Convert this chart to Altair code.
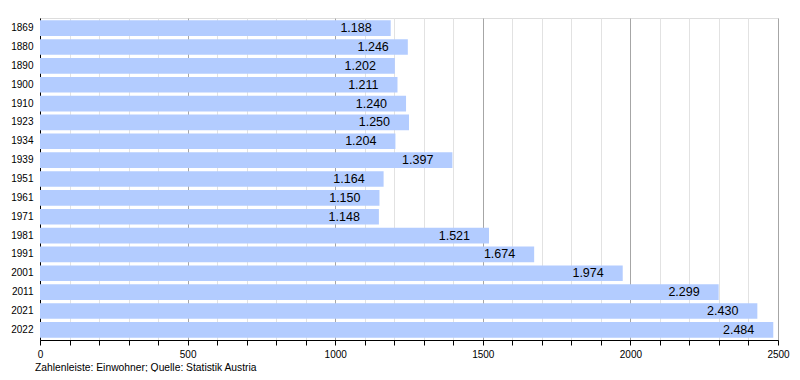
import altair as alt
import pandas as pd

years = ["1869", "1880", "1890", "1900", "1910", "1923", "1934", "1939", "1951",
         "1961", "1971", "1981", "1991", "2001", "2011", "2021", "2022"]
population = [1188, 1246, 1202, 1211, 1240, 1250, 1204, 1397, 1164,
              1150, 1148, 1521, 1674, 1974, 2299, 2430, 2484]
labels = ["1.188", "1.246", "1.202", "1.211", "1.240", "1.250", "1.204", "1.397", "1.164",
          "1.150", "1.148", "1.521", "1.674", "1.974", "2.299", "2.430", "2.484"]
x_ticks = list(range(0, 2501, 100))
footer = "Zahlenleiste: Einwohner; Quelle: Statistik Austria"

df = pd.DataFrame({"year": years, "pop": population, "label": labels})

W, H = 738, 322
FONT = "Liberation Sans"

x_scale = alt.Scale(domain=[0, 2500], nice=False, zero=True)
y_scale = alt.Scale(paddingInner=0.17, paddingOuter=0.125)

x_axis = alt.Axis(
    values=x_ticks,
    labelExpr="datum.value % 500 == 0 ? datum.value : ''",
    grid=True,
    gridColor=alt.condition("datum.value % 500 == 0", alt.value("#a6a6a6"), alt.value("#e2e2e2")),
    gridWidth=1,
    tickColor="black",
    tickSize=5,
    domainColor="black",
    labelColor="black",
    labelFontSize=10,
    labelFont=FONT,
    labelPadding=4,
    labelFlush=False,
    labelOverlap=False,
    title=None,
)
y_axis = alt.Axis(
    ticks=False,
    domainColor="black",
    labelColor="black",
    labelFontSize=10,
    labelFont=FONT,
    labelPadding=7,
    grid=False,
    title=None,
)

x_enc = alt.X("pop:Q", scale=x_scale, axis=x_axis)
y_enc = alt.Y("year:N", sort=years, scale=y_scale, axis=y_axis)

base = alt.Chart(df)
bars = base.mark_bar(color="#b3ccff").encode(x=x_enc, y=y_enc)
text = base.mark_text(align="right", baseline="middle", dx=-19, fontSize=12.5,
                      font=FONT, color="black").encode(x=x_enc, y=y_enc, text="label:N")

foot = alt.Chart(pd.DataFrame({"t": [footer]})).mark_text(
    align="left", baseline="middle", fontSize=10.3, font=FONT, color="black"
).encode(x=alt.value(-5), y=alt.value(350), text="t:N")

chart = alt.layer(bars, text, foot).properties(
    width=W, height=H,
    autosize=alt.AutoSizeParams(type="none"),
    padding={"left": 32, "top": 10, "right": 14, "bottom": 32},
).configure_view(stroke=None).configure(font=FONT)

chart.save("out.html", embed_options={"renderer": "svg", "actions": False})
